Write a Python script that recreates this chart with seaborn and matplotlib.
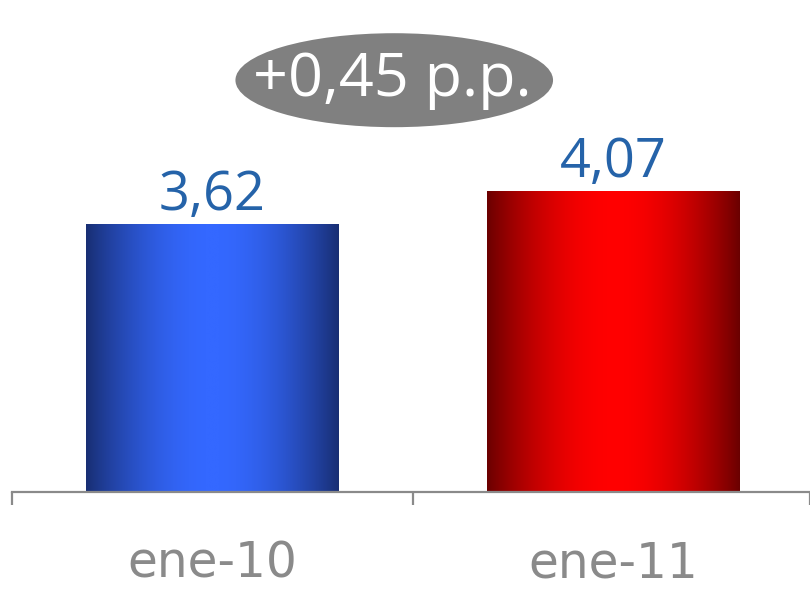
import matplotlib
matplotlib.use("Agg")
import matplotlib.pyplot as plt
from matplotlib.colors import LinearSegmentedColormap
from matplotlib.patches import Ellipse
import seaborn as sns
import pandas as pd
import numpy as np

# data
periods = ["ene-10", "ene-11"]
values = [3.62, 4.07]
value_labels = ["3,62", "4,07"]
change_label = "+0,45 p.p."

# gradient colours per bar: edge, centre
bar_grads = [("#182e72", "#3468ff"), ("#6a0000", "#ff0000")]
grey = "#8a8a8a"
label_blue = "#2563a9"

df = pd.DataFrame({"Periodo": periods, "Valor": values})

sns.set_style("white")
fig = plt.figure(figsize=(8.1, 5.91), dpi=100)
ax = fig.add_axes([12 / 810, 99 / 591, 798 / 810, 492 / 591])

sns.barplot(data=df, x="Periodo", y="Valor", hue="Periodo", legend=False,
            width=0.63, ax=ax, palette=["#3468ff", "#ff0000"])

# replace flat fills with smooth horizontal gradients clipped to each bar
t = np.linspace(0, 1, 400)
grad = (np.sin(np.pi * t) ** 0.9).reshape(1, -1)
for bar, (edge, mid) in zip(ax.patches, bar_grads):
    cmap = LinearSegmentedColormap.from_list("g", [edge, mid])
    x0, y0 = bar.get_x(), bar.get_y()
    w, h = bar.get_width(), bar.get_height()
    bar.set_facecolor("none")
    bar.set_edgecolor("none")
    im = ax.imshow(grad, cmap=cmap, aspect="auto", extent=[x0, x0 + w, y0, y0 + h],
                   zorder=bar.get_zorder(), interpolation="bilinear")
    im.set_clip_path(bar)
ax.set_xlim(-0.5, 1.49)
ax.set_ylim(0, 6.65)

# value labels
for i, (v, lab) in enumerate(zip(values, value_labels)):
    ax.annotate(lab, (i, v), xytext=(0, 10), textcoords="offset points",
                ha="center", va="baseline", fontsize=39, color=label_blue,
                family="Open Sans")

# change bubble
ell = Ellipse((0.479, 0.837), 0.398, 0.191, transform=ax.transAxes,
              facecolor="#808080", edgecolor="none", clip_on=False, zorder=5)
ax.add_patch(ell)
ax.text(0.477, 0.837, change_label, transform=ax.transAxes, ha="center", va="center",
        fontsize=44, color="white", family="Open Sans", zorder=6)

# axes styling
for s in ["top", "left", "right"]:
    ax.spines[s].set_visible(False)
ax.spines["bottom"].set_color(grey)
ax.spines["bottom"].set_linewidth(1.6)
ax.set_yticks([])
ax.set_xlabel("")
ax.set_ylabel("")
ax.set_xticks([0, 1])
ax.set_xticklabels(periods, fontsize=35, color=grey, family="DejaVu Sans")
ax.set_xticks([-0.5, 0.5, 1.49], minor=True)
ax.tick_params(axis="x", which="major", bottom=False, length=0, pad=34)
ax.tick_params(axis="x", which="minor", bottom=True, length=9.5, width=1.6,
               color=grey, direction="out")

fig.savefig("out.png", dpi=100)
